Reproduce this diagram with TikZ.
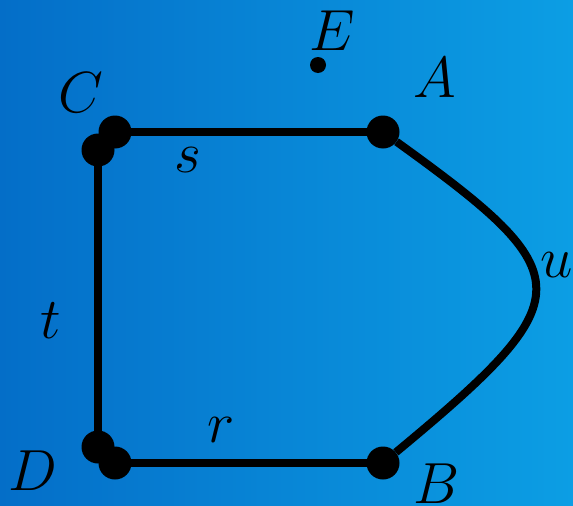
\RequirePackage{fix-cm}
\documentclass[tikz,border=0pt]{standalone}
\usetikzlibrary{shapes.geometric}
\definecolor{bgleft}{RGB}{4,110,200}
\definecolor{bgright}{RGB}{12,158,228}
\begin{document}
\begin{tikzpicture}[x=1pt,y=-1pt,
  bigdot/.style={circle,fill=black,inner sep=0pt,minimum size=33pt},
  smalldot/.style={circle,fill=black,inner sep=0pt,minimum size=16pt},
  edge/.style={line width=8pt,black},
  lbl/.style={anchor=base,inner sep=0pt,font=\fontsize{58}{60}\selectfont}]
\shade[left color=bgleft,right color=bgright] (0,0) rectangle (573,506);
\useasboundingbox (0,0) rectangle (573,506);
% dots
\node[bigdot] (C1) at (115,132) {};
\node[bigdot] (C2) at (98,150) {};
\node[bigdot] (D1) at (98,447) {};
\node[bigdot] (D2) at (115,463) {};
\node[bigdot] (A) at (383,132) {};
\node[bigdot] (B) at (383,463) {};
\node[smalldot] (E) at (318,65) {};
% edges
\draw[edge] (C1.center) -- (A.center);
\draw[edge] (C2.center) -- (D1.center);
\draw[edge] (D2.center) -- (B.center);
\draw[edge] (A) .. controls (583,276) and (583,297) .. (B);
% labels
\node[lbl] (lC) at (81,112) {$C$};
\node[lbl] (lA) at (435,97) {$A$};
\node[lbl] (lE) at (332,50) {$E$};
\node[lbl] (lD) at (33,490) {$D$};
\node[lbl] (lB) at (437,503) {$B$};
\node[lbl] (ls) at (188,172) {$s$};
\node[lbl] (lt) at (51,338) {$t$};
\node[lbl] (lr) at (221,442) {$r$};
\node[lbl] (lu) at (557,277) {$u$};
\end{tikzpicture}
\end{document}
